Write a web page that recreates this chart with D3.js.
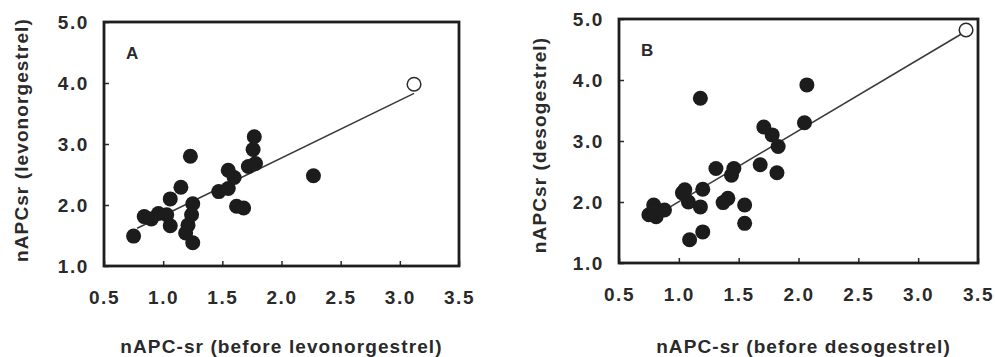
<!DOCTYPE html>
<html>
<head>
<meta charset="utf-8">
<script src="https://cdn.jsdelivr.net/npm/d3@7"></script>
<style>
  body { margin: 0; background: #fff; }
  text { font-family: "Liberation Sans", Arial, sans-serif; font-weight: bold; fill: #2a2a2a; }
</style>
</head>
<body>
<svg width="995" height="357"></svg>
<script>
// tick values shared by both panels
const xTicks = [0.5, 1.0, 1.5, 2.0, 2.5, 3.0, 3.5];
const yTicks = [1.0, 2.0, 3.0, 4.0, 5.0];

// panel A: levonorgestrel
const aBefore = [0.75, 0.84, 0.90, 0.96, 1.03, 1.06, 1.06, 1.15, 1.23, 1.25, 1.24, 1.21, 1.19, 1.25,
                 1.47, 1.55, 1.55, 1.60, 1.62, 1.68, 1.72, 1.78, 1.76, 1.77, 2.27];
const aAfter  = [1.49, 1.81, 1.77, 1.86, 1.84, 1.66, 2.10, 2.29, 2.80, 2.02, 1.84, 1.67, 1.54, 1.38,
                 2.22, 2.27, 2.57, 2.45, 1.98, 1.95, 2.63, 2.68, 2.91, 3.12, 2.48];
const aOpen = [3.12, 3.98];
const aFit = [[0.78, 1.62], [3.12, 3.83]];

// panel B: desogestrel
const bBefore = [0.79, 0.75, 0.83, 0.88, 0.81, 0.79, 1.03, 1.05, 1.08, 1.09, 1.18, 1.20, 1.20, 1.18,
                 1.31, 1.37, 1.41, 1.44, 1.46, 1.55, 1.55, 1.68, 1.71, 1.78, 1.82, 1.83, 2.05, 2.07];
const bAfter  = [1.95, 1.79, 1.84, 1.87, 1.76, 1.84, 2.15, 2.20, 2.00, 1.38, 1.92, 2.21, 1.51, 3.70,
                 2.55, 1.99, 2.06, 2.44, 2.55, 1.95, 1.65, 2.61, 3.23, 3.10, 2.48, 2.91, 3.30, 3.92];
const bOpen = [3.40, 4.82];
const bFit = [[0.91, 1.90], [3.375, 4.77]];

const svg = d3.select("svg");

function drawPanel(p) {
    const x = d3.scaleLinear().domain([0.5, 3.5]).range([p.left, p.right]);
    const y = d3.scaleLinear().domain([1, 5]).range([p.bottom, p.top]);
    const g = svg.append("g");

    const xAxis = g.append("g")
        .attr("transform", `translate(0,${p.bottom})`)
        .call(d3.axisBottom(x).tickValues(xTicks).tickFormat(d3.format(".1f")).tickSize(-5).tickPadding(25));
    const yAxis = g.append("g")
        .attr("transform", `translate(${p.left},0)`)
        .call(d3.axisLeft(y).tickValues(yTicks).tickFormat(d3.format(".1f")).tickSize(-5).tickPadding(15));

    [xAxis, yAxis].forEach(a => {
        a.select(".domain").remove();
        a.selectAll("line").attr("stroke", "#2a2a2a").attr("stroke-width", 1.5);
        a.selectAll("text")
            .attr("fill", "#2a2a2a")
            .style("font-family", '"Liberation Sans", Arial, sans-serif')
            .style("font-weight", "bold")
            .style("font-size", "19px")
            .style("letter-spacing", "1.6px");
    });

    g.append("rect")
        .attr("x", p.left).attr("y", p.top)
        .attr("width", p.right - p.left).attr("height", p.bottom - p.top)
        .attr("fill", "none").attr("stroke", "#1e1e1e").attr("stroke-width", 2.8);

    // regression line
    g.append("line")
        .attr("x1", x(p.fit[0][0])).attr("y1", y(p.fit[0][1]))
        .attr("x2", x(p.fit[1][0])).attr("y2", y(p.fit[1][1]))
        .attr("stroke", "#3a3a3a").attr("stroke-width", 1.6);

    g.selectAll("circle.pt")
        .data(p.xs)
        .enter().append("circle")
        .attr("class", "pt")
        .attr("cx", d => x(d))
        .attr("cy", (d, i) => y(p.ys[i]))
        .attr("r", 7.5)
        .attr("fill", "#1c1c1c");

    g.append("circle")
        .attr("cx", x(p.open[0])).attr("cy", y(p.open[1]))
        .attr("r", 6.8)
        .attr("fill", "#fff").attr("stroke", "#2a2a2a").attr("stroke-width", 1.5);

    g.append("text")
        .attr("x", p.left + 22).attr("y", p.top + 37)
        .style("font-size", "17px")
        .text(p.tag);

    g.append("text")
        .attr("x", (p.left + p.right) / 2 + p.xtOff)
        .attr("y", 353)
        .attr("text-anchor", "middle")
        .style("font-size", "19px")
        .style("letter-spacing", "1.1px")
        .text(p.xTitle);

    g.append("text")
        .attr("transform", `translate(${p.ytX},${p.ytY}) rotate(-90)`)
        .attr("text-anchor", "middle")
        .style("font-size", "19px")
        .style("letter-spacing", "1.1px")
        .text(p.yTitle);
}

drawPanel({
    left: 104, right: 459, top: 22, bottom: 266,
    xs: aBefore, ys: aAfter, open: aOpen, fit: aFit, tag: "A",
    xTitle: "nAPC-sr (before levonorgestrel)", xtOff: 0,
    yTitle: "nAPCsr (levonorgestrel)", ytX: 28, ytY: 140
});

drawPanel({
    left: 619, right: 978, top: 19, bottom: 263,
    xs: bBefore, ys: bAfter, open: bOpen, fit: bFit, tag: "B",
    xTitle: "nAPC-sr (before desogestrel)", xtOff: 5,
    yTitle: "nAPCsr (desogestrel)", ytX: 546, ytY: 145
});
</script>
</body>
</html>
